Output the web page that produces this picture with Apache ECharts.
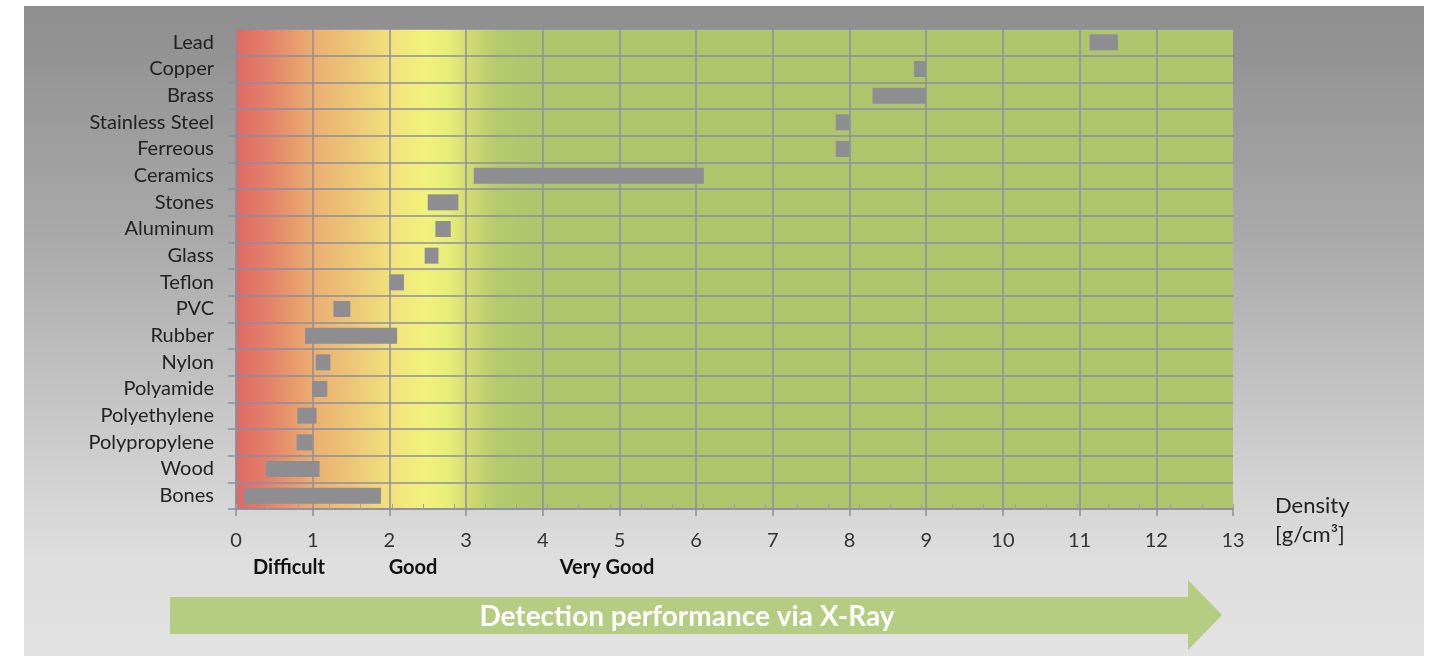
<!DOCTYPE html>
<html>
<head>
<meta charset="utf-8">
<script src="https://cdn.jsdelivr.net/npm/echarts@6/dist/echarts.min.js"></script>
<style>
html,body{margin:0;padding:0;background:#ffffff;}
#chart{width:1436px;height:656px;}
</style>
</head>
<body>
<div id="chart"></div>
<script>
// Materials, top to bottom
var categories = ['Lead','Copper','Brass','Stainless Steel','Ferreous','Ceramics','Stones','Aluminum','Glass','Teflon','PVC','Rubber','Nylon','Polyamide','Polyethylene','Polypropylene','Wood','Bones'];
// Density range start [g/cm³]
var densityMin = [11.13, 8.84, 8.3, 7.82, 7.82, 3.1, 2.5, 2.6, 2.46, 2.0, 1.27, 0.9, 1.04, 0.99, 0.8, 0.79, 0.39, 0.1];
// Density range end [g/cm³]
var densityMax = [11.5, 9.0, 9.0, 8.0, 8.0, 6.1, 2.9, 2.8, 2.64, 2.19, 1.49, 2.1, 1.23, 1.19, 1.05, 1.0, 1.09, 1.89];
var xTicks = [0,1,2,3,4,5,6,7,8,9,10,11,12,13];
var performanceLabels = ['Difficult','Good','Very Good'];
var axisNameLines = ['Density','[g/cm³]'];
var arrowText = 'Detection performance via X-Ray';

var rangeLen = densityMax.map(function(v,i){ return +(v - densityMin[i]).toFixed(3); });

var FONT = 'Lato';
var chart = echarts.init(document.getElementById('chart'), null, {renderer:'canvas'});

var plotBg = new echarts.graphic.LinearGradient(0,0,1,0,[
  {offset:0, color:'#df6a64'},
  {offset:0.025, color:'#e37a68'},
  {offset:0.077, color:'#ebae70'},
  {offset:0.12, color:'#eec878'},
  {offset:0.155, color:'#f0e27b'},
  {offset:0.19, color:'#f3f27d'},
  {offset:0.215, color:'#e6ec78'},
  {offset:0.232, color:'#d3dc73'},
  {offset:0.262, color:'#b6c96d'},
  {offset:0.3, color:'#afc56c'},
  {offset:1, color:'#afc56c'}
]);

var option = {
  animation: false,
  graphic: [
    {type:'rect', z:-10, shape:{x:24,y:6,width:1400,height:650},
     style:{fill:new echarts.graphic.LinearGradient(0,0,0,1,[
       {offset:0,color:'#8e8e8e'},{offset:0.35,color:'#a9a9a9'},{offset:0.7,color:'#cfcfcf'},{offset:0.85,color:'#dedede'},{offset:1,color:'#e2e2e2'}])}},
    {type:'polygon', z:5, shape:{points:[[170,597],[1188,597],[1188,580],[1222,615],[1188,650],[1188,634],[170,634]]},
     style:{fill:'#b5cd83'}},
    {type:'text', z:6, x:687, y:617, style:{text:arrowText, fill:'#ffffff', font:'bold 28px '+FONT, align:'center', verticalAlign:'middle'}},
    {type:'text', z:6, x:289, y:568, style:{text:performanceLabels[0], fill:'#111111', font:'bold 20px '+FONT, align:'center', verticalAlign:'middle'}},
    {type:'text', z:6, x:413, y:568, style:{text:performanceLabels[1], fill:'#111111', font:'bold 20px '+FONT, align:'center', verticalAlign:'middle'}},
    {type:'text', z:6, x:607, y:568, style:{text:performanceLabels[2], fill:'#111111', font:'bold 20px '+FONT, align:'center', verticalAlign:'middle'}},
    {type:'text', z:6, x:1275, y:506, style:{text:axisNameLines[0], fill:'#222222', font:'22px '+FONT, align:'left', verticalAlign:'middle'}},
    {type:'text', z:6, x:1275, y:535, style:{text:axisNameLines[1], fill:'#222222', font:'22px '+FONT, align:'left', verticalAlign:'middle'}}
  ],
  grid: {left:236, top:29, width:997, height:480, show:true, backgroundColor:plotBg, borderWidth:0},
  xAxis: [{
    type:'value', min:0, max:13, interval:1,
    axisLine:{show:true, lineStyle:{color:'#8c8ea0', width:1.5}},
    axisTick:{show:true, inside:false, length:7, lineStyle:{color:'#8c8ea0', width:1.5}},
    axisLabel:{color:'#333333', fontFamily:FONT, fontSize:20, margin:22, formatter:function(v){return xTicks.indexOf(v)>=0?String(v):'';}},
    splitLine:{show:true, showMaxLine:false, lineStyle:{color:'#8c8ea0', width:1.5}}
  },{
    type:'value', min:0, max:12.8, interval:0.4, position:'bottom', gridIndex:0,
    axisLine:{show:false}, axisLabel:{show:false}, splitLine:{show:false},
    axisTick:{show:true, inside:true, length:5, lineStyle:{color:'#a0a0aa', width:1}}
  }],
  yAxis: {
    type:'category', data:categories, inverse:true,
    axisLine:{show:true, lineStyle:{color:'#8c8ea0', width:1.5}},
    axisTick:{show:true, length:8, lineStyle:{color:'#8c8ea0', width:1.5}},
    axisLabel:{color:'#222222', fontFamily:FONT, fontSize:20, margin:22, interval:0},
    splitLine:{show:true, lineStyle:{color:'#8c8ea0', width:1.5}}
  },
  series: [
    {type:'bar', stack:'r', data:densityMin, barCategoryGap:'40%', itemStyle:{color:'rgba(0,0,0,0)'}, silent:true},
    {type:'bar', stack:'r', data:rangeLen, barCategoryGap:'40%', itemStyle:{color:'#8e8e92'}}
  ]
};
chart.setOption(option);
</script>
</body>
</html>
